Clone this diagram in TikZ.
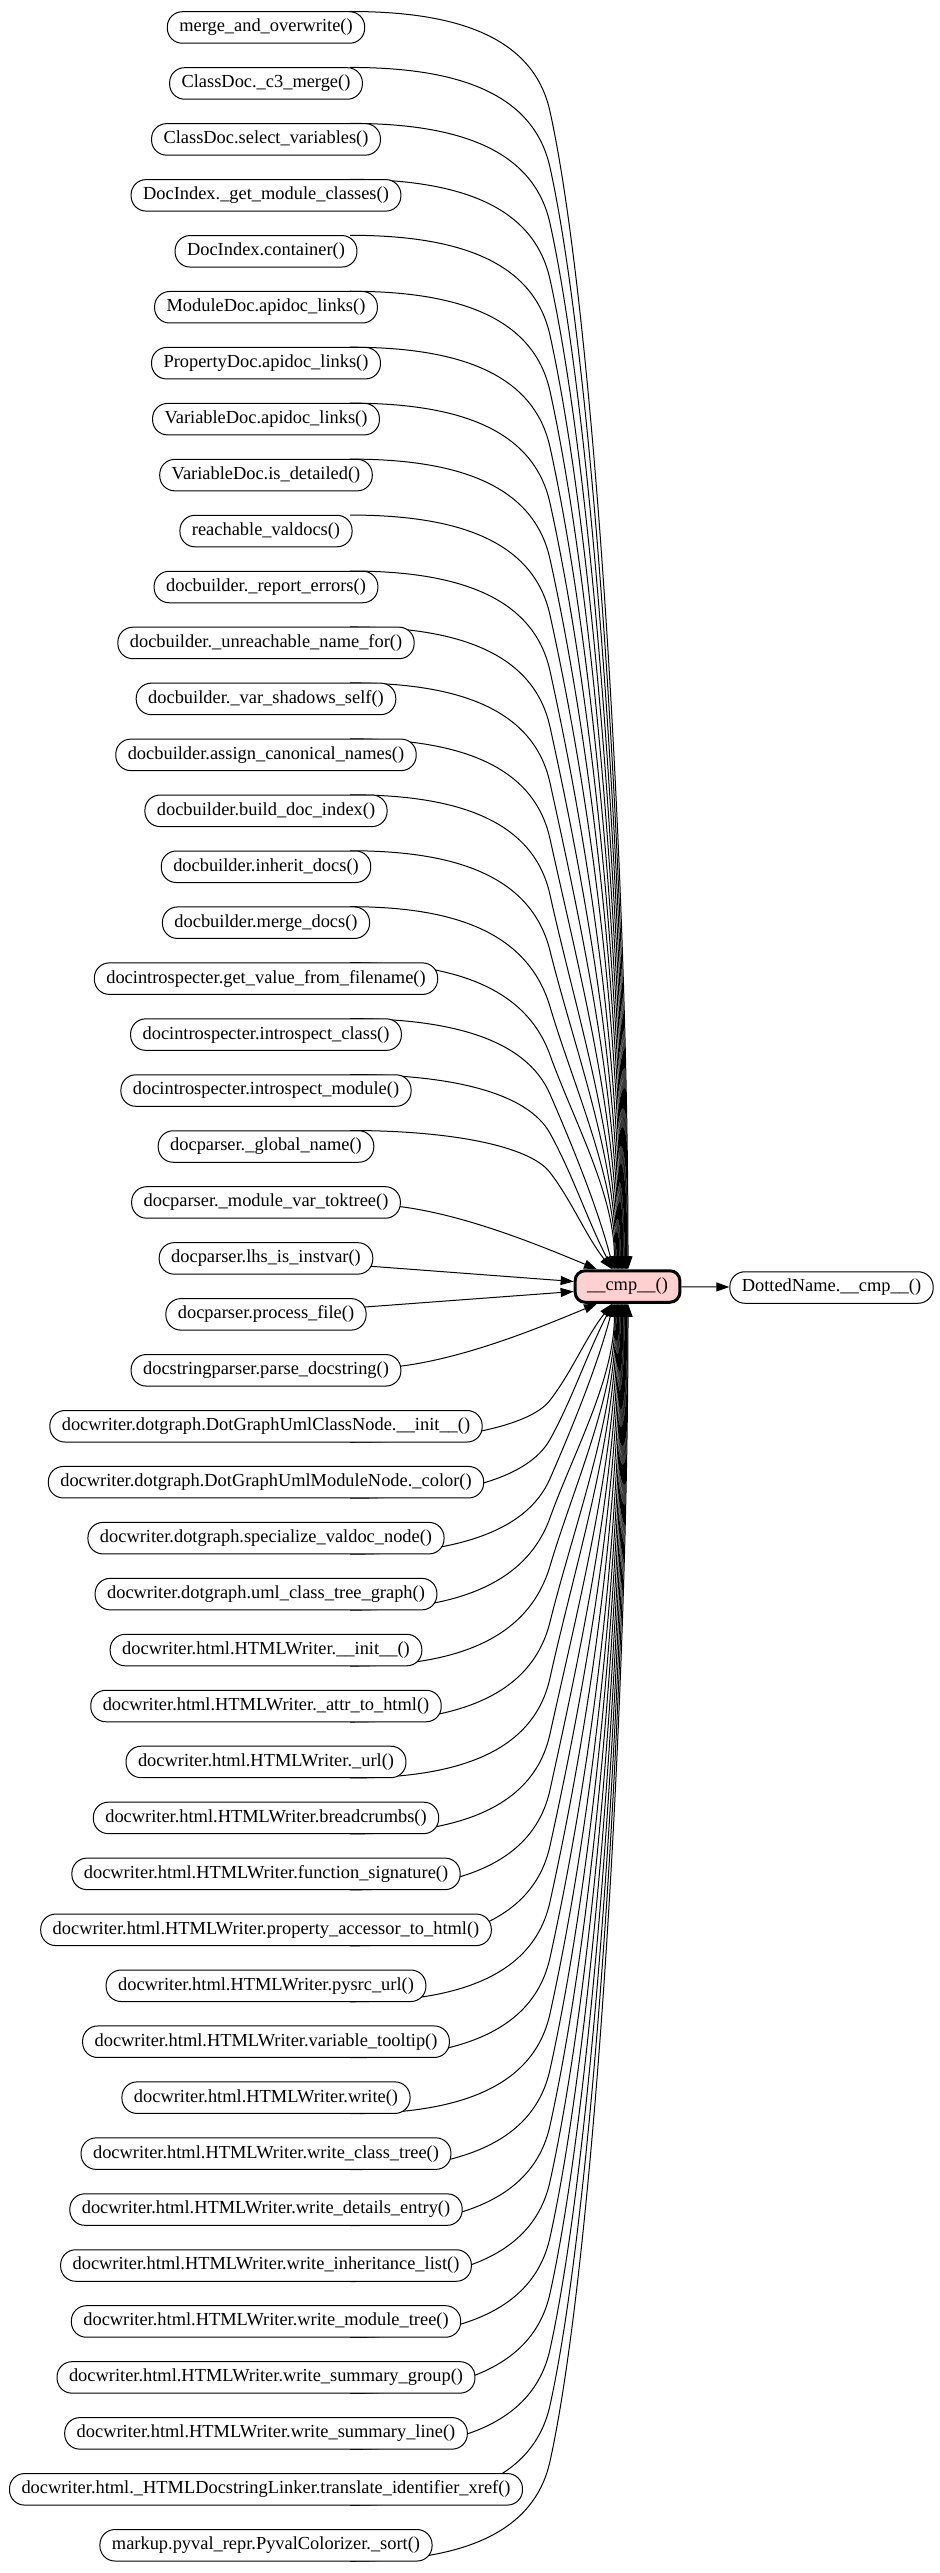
\documentclass[tikz,border=0pt]{standalone}
\usepackage{fontspec}
\setmainfont{Liberation Serif}
\usetikzlibrary{calc,arrows.meta}
\pgfdeclarelayer{background}
\pgfsetlayers{background,main}
\definecolor{cmppink}{RGB}{255,208,208}
\tikzset{
  fn/.style={draw, line width=0.5pt, rounded corners=7.5pt, minimum height=15.75pt,
    inner xsep=6pt, inner ysep=0pt, fill=white, font=\fontsize{9.2}{11}\selectfont},
  cmpst/.style={fn, fill=cmppink, line width=1.5pt, rounded corners=5pt},
  edge/.style={line width=0.5pt, -{Triangle[length=6.5pt,width=4.5pt]}}
}
\begin{document}
\begin{tikzpicture}[x=0.5pt,y=-0.5pt]
\useasboundingbox (0,0) rectangle (939,2573);
\foreach \i/\t in {
0/merge\_and\_overwrite(),
1/ClassDoc.\_c3\_merge(),
2/ClassDoc.select\_variables(),
3/DocIndex.\_get\_module\_classes(),
4/DocIndex.container(),
5/ModuleDoc.apidoc\_links(),
6/PropertyDoc.apidoc\_links(),
7/VariableDoc.apidoc\_links(),
8/VariableDoc.is\_detailed(),
9/reachable\_valdocs(),
10/docbuilder.\_report\_errors(),
11/docbuilder.\_unreachable\_name\_for(),
12/docbuilder.\_var\_shadows\_self(),
13/docbuilder.assign\_canonical\_names(),
14/docbuilder.build\_doc\_index(),
15/docbuilder.inherit\_docs(),
16/docbuilder.merge\_docs(),
17/docintrospecter.get\_value\_from\_filename(),
18/docintrospecter.introspect\_class(),
19/docintrospecter.introspect\_module(),
20/docparser.\_global\_name(),
21/docparser.\_module\_var\_toktree(),
22/docparser.lhs\_is\_instvar(),
23/docparser.process\_file(),
24/docstringparser.parse\_docstring(),
25/docwriter.dotgraph.DotGraphUmlClassNode.\_\_init\_\_(),
26/docwriter.dotgraph.DotGraphUmlModuleNode.\_color(),
27/docwriter.dotgraph.specialize\_valdoc\_node(),
28/docwriter.dotgraph.uml\_class\_tree\_graph(),
29/docwriter.html.HTMLWriter.\_\_init\_\_(),
30/docwriter.html.HTMLWriter.\_attr\_to\_html(),
31/docwriter.html.HTMLWriter.\_url(),
32/docwriter.html.HTMLWriter.breadcrumbs(),
33/docwriter.html.HTMLWriter.function\_signature(),
34/docwriter.html.HTMLWriter.property\_accessor\_to\_html(),
35/docwriter.html.HTMLWriter.pysrc\_url(),
36/docwriter.html.HTMLWriter.variable\_tooltip(),
37/docwriter.html.HTMLWriter.write(),
38/docwriter.html.HTMLWriter.write\_class\_tree(),
39/docwriter.html.HTMLWriter.write\_details\_entry(),
40/docwriter.html.HTMLWriter.write\_inheritance\_list(),
41/docwriter.html.HTMLWriter.write\_module\_tree(),
42/docwriter.html.HTMLWriter.write\_summary\_group(),
43/docwriter.html.HTMLWriter.write\_summary\_line(),
44/docwriter.html.\_HTMLDocstringLinker.translate\_identifier\_xref(),
45/markup.pyval\_repr.PyvalColorizer.\_sort()}{
  \node[fn] (n\i) at (266,{27.5+\i*55.95}) {\t};
}
\node[cmpst] (cmp) at (627.5,1286.5) {\_\_cmp\_\_()};
\node[fn] (dn) at (831.5,1287.5) {DottedName.\_\_cmp\_\_()};
\draw[edge] (cmp) -- (dn);
\begin{pgfonlayer}{background}
\foreach \i in {0,...,45}{
  \pgfmathsetmacro\zm{abs(\i-22.5)}
  \pgfmathtruncatemacro\zv{\i<22.5 ? 1 : -1}
  \ifnum\zv>0 \def\zea{north}\else\def\zea{south}\fi
  \pgfmathtruncatemacro\zcls{\zm<1 ? 0 : (\zm<2 ? 1 : 2)}
  \ifcase\zcls
    \draw[edge] (n\i.center) -- ($(cmp.west)+(0,{-5*\zv})$);
  \or
    \draw[edge] ($(n\i.east)+(-2,{4*\zv})$) .. controls +(65,{8*\zv}) and +(-60,{-25*\zv}) .. ($(cmp.\zea)+(-30.5,0)$);
  \else
    \pgfmathsetmacro\zyi{27.5+\i*55.95}
    \pgfmathsetmacro\zdyK{min(100,0.3*\zm*55.95)}
    \pgfmathsetmacro\zky{-16*\zv+\zv*\zdyK}
    \pgfmathsetmacro\zKy{\zyi+\zky}
    \pgfmathsetmacro\zEy{1286.5-16.5*\zv}
    \pgfmathsetmacro\zDy{\zv*(\zEy-\zKy)}
    \pgfmathsetmacro\zEx{612+0.8*(\zm-2.5)}
    \pgfmathsetmacro\zs{max(0.22,1.2*(\zEx-550)/\zDy)}
    \pgfmathsetmacro\zn{sqrt(1+\zs*\zs)}
    \pgfmathsetmacro\zc{0.8*\zdyK}
    \pgfmathsetmacro\zctx{-\zc*\zs/\zn}
    \pgfmathsetmacro\zcty{-\zv*\zc/\zn}
    \pgfmathsetmacro\zL{min(200,0.3*\zDy)}
    \pgfmathsetmacro\zcthx{\zs*\zL}
    \pgfmathsetmacro\zcthy{\zv*\zL}
    \pgfmathsetmacro\zq{0.35*\zDy}
    \pgfmathsetmacro\ztl{max(0,(5.5-\zm)*0.26)}
    \pgfmathsetmacro\zcfx{-\ztl*\zq}
    \pgfmathsetmacro\zcfy{-\zv*\zq}
    \pgfmathsetmacro\zexo{\zEx-627.5}
    \draw[edge] ($(n\i.center)+(84,{-16*\zv})$) .. controls +(100,0) and +(\zctx,\zcty) .. ($(n\i.center)+(284,\zky)$) .. controls +(\zcthx,\zcthy) and +(\zcfx,\zcfy) .. ($(cmp.\zea)+(\zexo,0)$);
  \fi
}
\end{pgfonlayer}
\end{tikzpicture}
\end{document}
